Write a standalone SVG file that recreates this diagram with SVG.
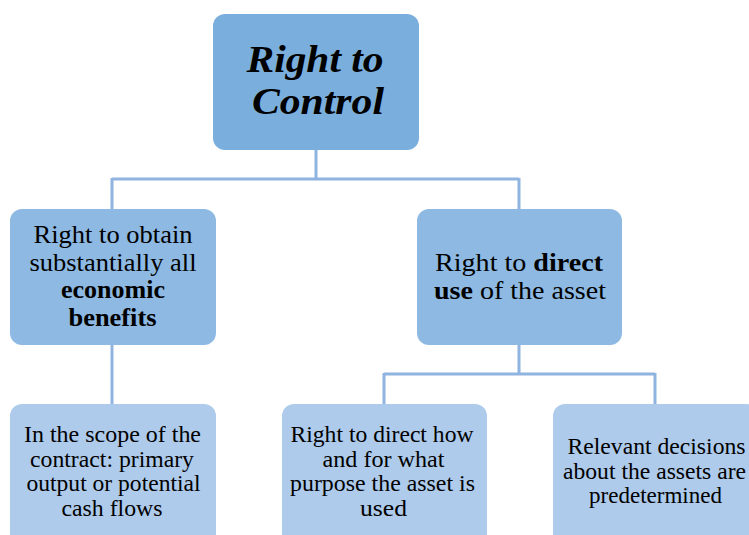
<svg xmlns="http://www.w3.org/2000/svg" width="749" height="535" viewBox="0 0 749 535">
<style>
text{font-family:'Liberation Serif','Times New Roman',serif;fill:#000;text-anchor:middle}
.c{fill:none;stroke:#8fb4e0;stroke-width:3}
.t{fill:#7aafdd}
.m{fill:#8db9e2}
.b{fill:#aecbeb}
.h{font-size:38.5px;font-weight:bold;font-style:italic}
.l2{font-size:25px}
.l3{font-size:23.5px}
.bd{font-weight:bold}
</style>
<rect width="749" height="535" fill="#fff"/>
<g id="connectors">
<path class="c" d="M316 150V179M112 179H519M112 178V209M519 178V209"/>
<path class="c" d="M112 345V404"/>
<path class="c" d="M519 345V374M384 374H655M384 373V404M655 373V404"/>
</g>
<g id="n-root">
<rect class="t" x="213" y="14" width="206" height="136" rx="12"/>
<text class="h" x="315" y="72" textLength="137" lengthAdjust="spacingAndGlyphs">Right to</text>
<text class="h" x="318" y="114" textLength="132" lengthAdjust="spacingAndGlyphs">Control</text>
</g>
<g id="n-economic">
<rect class="m" x="10" y="209" width="206" height="136" rx="12"/>
<text class="l2" x="113" y="243" textLength="159" lengthAdjust="spacingAndGlyphs">Right to obtain</text>
<text class="l2" x="113" y="271" textLength="167" lengthAdjust="spacingAndGlyphs">substantially all</text>
<text class="l2 bd" x="113" y="298" textLength="104" lengthAdjust="spacingAndGlyphs">economic</text>
<text class="l2 bd" x="112.5" y="326" textLength="88" lengthAdjust="spacingAndGlyphs">benefits</text>
</g>
<g id="n-direct">
<rect class="m" x="417" y="209" width="205" height="136" rx="12"/>
<text class="l2" x="519" y="271" font-size="26" textLength="168" lengthAdjust="spacingAndGlyphs">Right to <tspan class="bd">direct</tspan></text>
<text class="l2" x="520" y="299" font-size="26" textLength="172" lengthAdjust="spacingAndGlyphs"><tspan class="bd">use</tspan> of the asset</text>
</g>
<g id="n-scope">
<rect class="b" x="10" y="404" width="206" height="145" rx="12"/>
<text class="l3" x="112.5" y="442" textLength="177" lengthAdjust="spacingAndGlyphs">In the scope of the</text>
<text class="l3" x="112" y="466.5" textLength="164" lengthAdjust="spacingAndGlyphs">contract: primary</text>
<text class="l3" x="113.5" y="491" textLength="174" lengthAdjust="spacingAndGlyphs">output or potential</text>
<text class="l3" x="112" y="515.5" textLength="101" lengthAdjust="spacingAndGlyphs">cash flows</text>
</g>
<g id="n-how">
<rect class="b" x="282" y="404" width="205" height="145" rx="12"/>
<text class="l3" x="382" y="442" textLength="183" lengthAdjust="spacingAndGlyphs">Right to direct how</text>
<text class="l3" x="383.5" y="466.5" textLength="122" lengthAdjust="spacingAndGlyphs">and for what</text>
<text class="l3" x="382.5" y="491" textLength="185" lengthAdjust="spacingAndGlyphs">purpose the asset is</text>
<text class="l3" x="383.5" y="515.5" textLength="47" lengthAdjust="spacingAndGlyphs">used</text>
</g>
<g id="n-predetermined">
<rect class="b" x="553" y="404" width="205" height="145" rx="12"/>
<text class="l3" x="656.5" y="454" textLength="178" lengthAdjust="spacingAndGlyphs">Relevant decisions</text>
<text class="l3" x="654.5" y="478.5" textLength="183" lengthAdjust="spacingAndGlyphs">about the assets are</text>
<text class="l3" x="655.5" y="503" textLength="133" lengthAdjust="spacingAndGlyphs">predetermined</text>
</g>
</svg>
